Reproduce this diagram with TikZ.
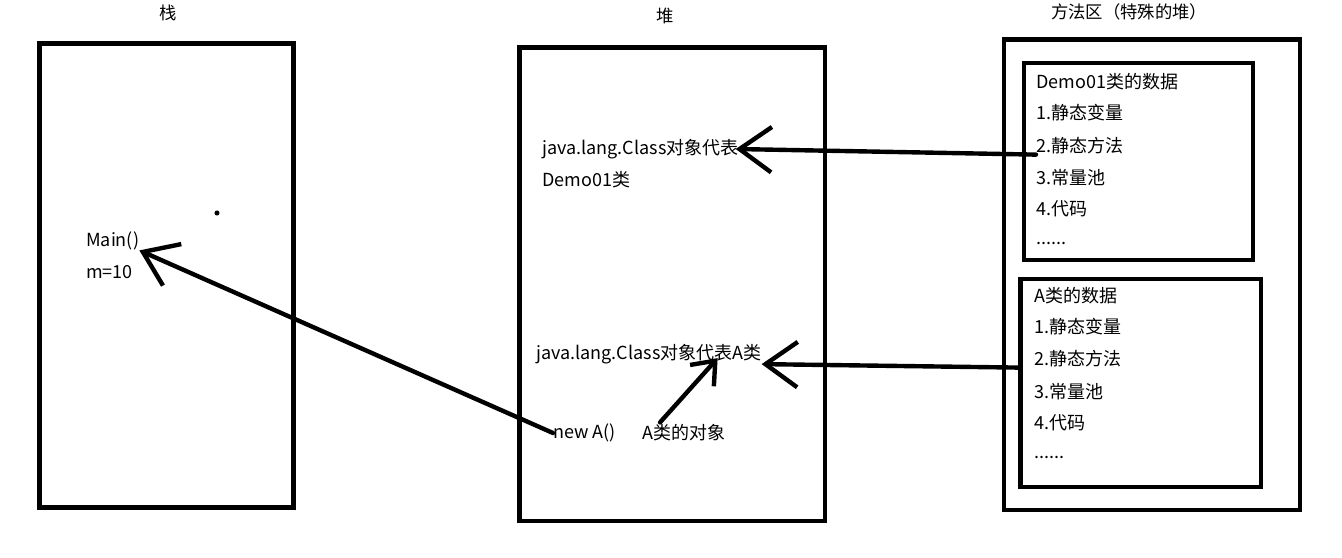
\documentclass[tikz,border=0pt]{standalone}
\usepackage{fontspec}
\setmainfont{Noto Sans CJK SC}
\usetikzlibrary{calc, arrows.meta}

\tikzset{
  box/.style={draw, line width=3.5pt, inner sep=0pt, outer sep=0pt},
  txt/.style={anchor=west, inner sep=0pt, font=\fontsize{13.5}{16}\selectfont},
  ttl/.style={inner sep=0pt, font=\fontsize{13}{16}\selectfont},
  ref/.style={line width=3.3pt, line cap=round, line join=round,
    -{Straight Barb[length=24pt, width=34pt, line width=3.3pt]}},
  refsmall/.style={ref, -{Straight Barb[length=15pt, width=24pt, line width=3.3pt]}}
}

\begin{document}
\begin{tikzpicture}[x=0.75pt, y=-0.75pt]
			\useasboundingbox (0,0) rectangle (1342,557);
			% the three areas
			\node[ttl] (T1) at (168,13) {栈};
			\node[ttl] (T2) at (665,16) {堆};
			\node[ttl] (T3) at (1129,12) {方法区（特殊的堆）};
			\node[box, minimum width=190.5pt, minimum height=348pt] (S) at (166.5,275.5) {};
			\node[box, minimum width=229.1pt, minimum height=355.1pt] (H) at (672.25,284.25) {};
			\node[box, minimum width=222pt, minimum height=352.9pt] (M) at (1152,274.75) {};
			\node[box, minimum width=171.75pt, minimum height=147.75pt] (D) at (1138.5,161.5) {};
			\node[box, minimum width=180.4pt, minimum height=156pt] (A) at (1140.75,383) {};
			% stack
			\node[txt] (main) at (86,241) {Main()};
			\node[txt] (m) at (86,272) {m=10};
			\fill (217,213) circle (1.9pt);
			% heap
			\node[txt] (C1) at (542,149) {java.lang.Class对象代表};
			\node[txt] (C1b) at (542,180) {Demo01类};
			\node[txt] (C2) at (536,354) {java.lang.Class对象代表A类};
			\node[txt] (newA) at (553,433) {new A()};
			\node[txt] (objA) at (642,433) {A类的对象};
			% method area
			\node[txt] (D0) at (1036,82) {Demo01类的数据};
			\node[txt] (D1) at (1036,113) {1.静态变量};
			\node[txt] (D2) at (1036,146) {2.静态方法};
			\node[txt] (D3) at (1036,178) {3.常量池};
			\node[txt] (D4) at (1036,209) {4.代码};
			\node[txt] (D5) at (1036,243) {......};
			\node[txt] (A0) at (1034,296) {A类的数据};
			\node[txt] (A1) at (1034,327) {1.静态变量};
			\node[txt] (A2) at (1034,359) {2.静态方法};
			\node[txt] (A3) at (1034,392) {3.常量池};
			\node[txt] (A4) at (1034,423) {4.代码};
			\node[txt] (A5) at (1034,457) {......};
			% references
			\draw[ref] (D2.south west) -- ($(C1.east)+(-3,0)$);
			\draw[ref] (A.west |- A2.south) -- (C2.south east);
			\draw[refsmall] ($(objA.north west)+(18,-2)$) -- ($(C2.south east)+(-44,-6)$);
			\draw[ref] (newA.west) -- (main.south east);
		\end{tikzpicture}
\end{document}
